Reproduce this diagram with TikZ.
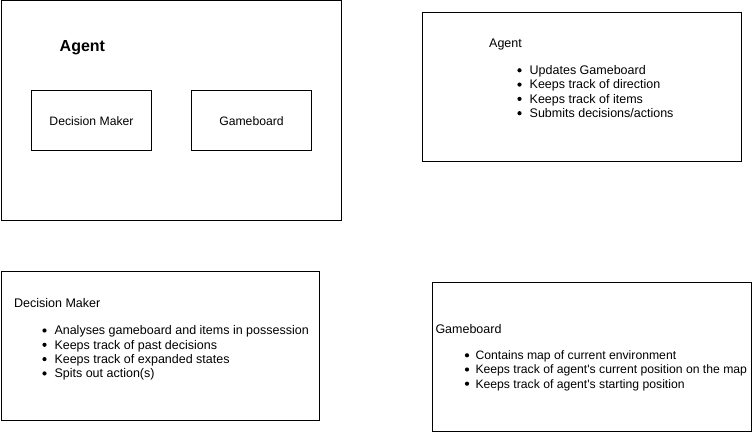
\documentclass[tikz,border=0pt]{standalone}
\usepackage{fontspec}
\setmainfont{Liberation Sans}
\usetikzlibrary{positioning}

\tikzset{
  box/.style={rectangle, draw, line width=1pt, inner sep=0pt},
  txt/.style={anchor=west, inner sep=0pt, text height=8.6pt, text depth=0pt, font=\fontsize{12.5}{14}\selectfont},
  dot/.style={circle, fill, inner sep=0pt, minimum size=4.2pt},
}

\begin{document}
\begin{tikzpicture}[x=1pt, y=-1pt]
        \useasboundingbox (0,0) rectangle (753,433);

        % Agent overview (top left)
        \node[box, minimum width=340pt, minimum height=220pt] (agentbox) at (171.5,111) {};
        \node[txt, font=\fontsize{16}{18}\selectfont\bfseries, text height=11.5pt] (agenttitle) at (59.5,45.7) {Agent};
        \node[box, minimum width=120pt, minimum height=60pt, font=\fontsize{12.2}{14}\selectfont] (dmbox) at (91.5,120.8) {Decision Maker};
        \node[box, minimum width=120pt, minimum height=60pt, font=\fontsize{12.2}{14}\selectfont] (gbbox) at (251.5,120.8) {Gameboard};

        % Agent notes (top right)
        \node[box, minimum width=319pt, minimum height=149pt] (agentnote) at (582.2,86.7) {};
        \node[txt] (agentnotetitle) at (489,43.5) {Agent};
        \foreach \i/\txt in {0/Updates Gameboard, 1/Keeps track of direction, 2/Keeps track of items, 3/{Submits decisions/actions}} {
          \node[dot] (agentdot\i) at (519.5,70.3+\i*14.3) {};
          \node[txt] (agentitem\i) at (529.5,70.3+\i*14.3) {\txt};
        }

        % Decision Maker notes (bottom left)
        \node[box, minimum width=318pt, minimum height=149pt] (dmnote) at (160.7,346.3) {};
        \node[txt] (dmnotetitle) at (14,303.5) {Decision Maker};
        \foreach \i/\txt in {0/Analyses gameboard and items in possession, 1/Keeps track of past decisions, 2/Keeps track of expanded states, 3/Spits out action(s)} {
          \node[dot] (dmdot\i) at (44.5,330.5+\i*14.3) {};
          \node[txt] (dmitem\i) at (54.3,330.5+\i*14.3) {\txt};
        }

        % Gameboard notes (bottom right)
        \node[box, minimum width=319pt, minimum height=149pt] (gbnote) at (591.7,356.7) {};
        \node[txt] (gbnotetitle) at (435.3,328.7) {Gameboard};
        \foreach \i/\txt in {0/Contains map of current environment, 1/Keeps track of agent\textquotesingle s current position on the map, 2/Keeps track of agent\textquotesingle s starting position} {
          \node[dot] (gbdot\i) at (467,355.3+\i*14.2) {};
          \node[txt, font=\fontsize{12.2}{14}\selectfont] (gbitem\i) at (475.3,355.3+\i*14.2) {\txt};
        }
    \end{tikzpicture}
\end{document}
